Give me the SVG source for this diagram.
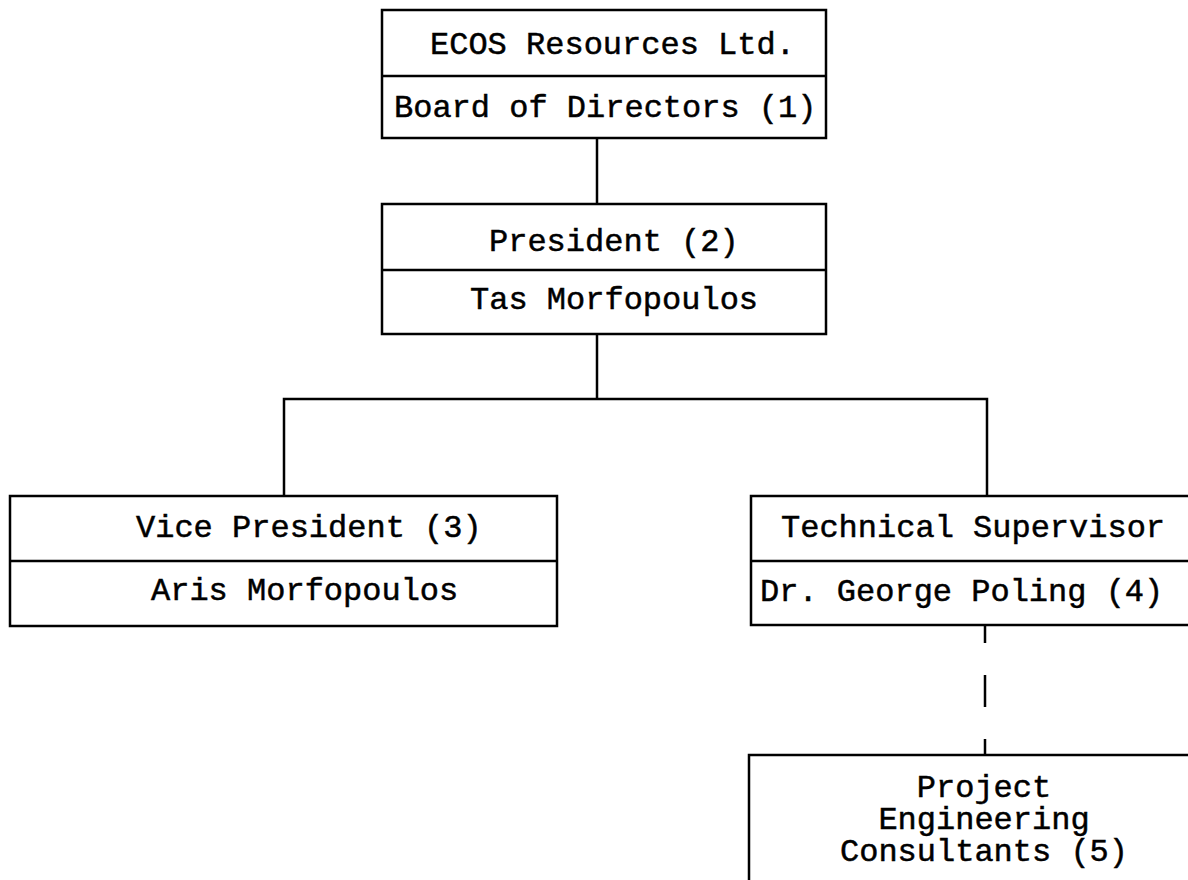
<svg xmlns="http://www.w3.org/2000/svg" width="1188" height="880" viewBox="0 0 1188 880">
<style>
.box{fill:none;stroke:#000;stroke-width:2.5}
.div{stroke:#000;stroke-width:2.5}
.t{font-family:"Liberation Mono","Courier New",monospace;font-size:32px;fill:#000;stroke:#000;stroke-width:0.5}
.m{text-anchor:middle}
.conn{fill:none;stroke:#000;stroke-width:2.5}
</style>
<rect width="1188" height="880" fill="#fff"/>
<g id="connectors">
<path class="conn" d="M597 138V204"/>
<path class="conn" d="M597 334V399"/>
<path class="conn" d="M284 496V399H987V496"/>
<path class="conn" d="M985 625V643M985 675V707M985 739V755"/>
</g>
<g id="board">
<rect class="box" x="382" y="10" width="444" height="128"/>
<line class="div" x1="382" y1="76" x2="826" y2="76"/>
<text class="t" x="430" y="54">ECOS Resources Ltd.</text>
<text class="t" x="394" y="117">Board of Directors (1)</text>
</g>
<g id="president">
<rect class="box" x="382" y="204" width="444" height="130"/>
<line class="div" x1="382" y1="270" x2="826" y2="270"/>
<text class="t" x="489" y="251">President (2)</text>
<text class="t" x="470" y="309">Tas Morfopoulos</text>
</g>
<g id="vice-president">
<rect class="box" x="10" y="496" width="547" height="130"/>
<line class="div" x1="10" y1="561" x2="557" y2="561"/>
<text class="t" x="136" y="537">Vice President (3)</text>
<text class="t" x="151" y="600">Aris Morfopoulos</text>
</g>
<g id="technical-supervisor">
<rect class="box" x="751" y="496" width="480" height="129"/>
<line class="div" x1="751" y1="561" x2="1231" y2="561"/>
<text class="t" x="781" y="537">Technical Supervisor</text>
<text class="t" x="760" y="601">Dr. George Poling (4)</text>
</g>
<g id="consultants">
<rect class="box" x="749" y="755" width="480" height="160"/>
<text class="t m" x="984" y="797">Project</text>
<text class="t m" x="984" y="829">Engineering</text>
<text class="t m" x="984" y="861">Consultants (5)</text>
</g>
</svg>
